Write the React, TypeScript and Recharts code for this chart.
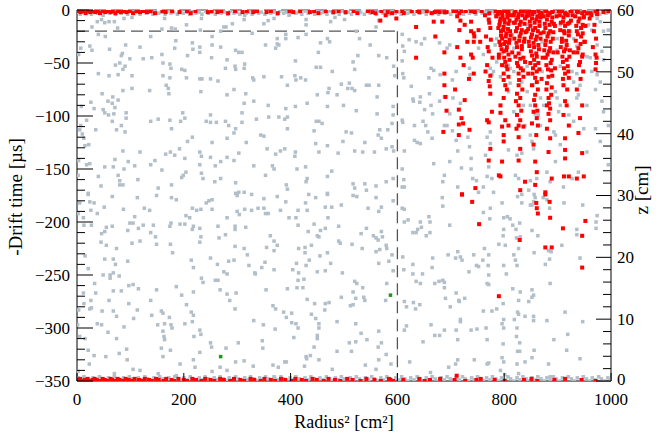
import { ScatterChart, Scatter, XAxis, YAxis, ReferenceLine } from 'recharts';

// scatter points [radius^2 (cm^2), -drift time (us)]
const grayUpperLeft: [number, number][] = [
  [28,-16],[38,-11],[46,-9],[52,-12],[60,-11],[70,-11],[88,-8],[40,-23],[53,-25],[76,-17],[103,-7],[138,-25],[159,-18],[164,-8],[177,-17],[184,-18],[205,-14],[231,-19],[233,-8],
  [7,-36],[24,-34],[28,-38],[61,-37],[91,-33],[85,-41],[83,-43],[99,-46],[118,-35],[124,-46],[140,-45],[159,-42],[161,-50],[174,-51],[176,-55],[183,-36],[185,-29],[207,-43],[217,-37],[216,-31],[230,-40],[230,-35],
  [3,-42],[72,-52],[80,-50],[90,-53],[40,-60],[60,-62],[77,-61],[86,-56],[103,-62],[136,-76],[161,-62],[174,-64],[196,-56],[202,-57],[205,-64],[230,-65],[234,-65],[167,-71],[171,-74],[172,-79],[232,-77],
  [47,-79],[67,-82],[58,-86],[77,-85],[66,-88],[86,-76],[103,-74],[26,-87],[32,-93],[49,-94],[52,-97],[71,-92],[59,-99],[69,-98],[92,-97],[92,-102],[83,-109],[74,-113],[90,-115],[66,-105],
  [8,-91],[18,-104],[7,-109],[35,-113],[138,-105],[152,-103],[174,-104],[177,-112],[198,-97],[194,-105],[202,-102],[242,-105],[216,-120],[207,-124],[5,-113],[10,-117],[13,-121],[15,-128],[22,-127],
  [86,-133],[118,-134],[166,-136],[175,-134],[192,-131],[183,-137],[202,-140],[230,-134],[233,-138],[3,-142],[18,-146],[24,-145],[71,-141],[52,-148],[68,-148],[96,-143],[108,-147],[146,-142],[138,-146],[159,-151],[230,-146],
  [2,-156],[40,-157],[77,-156],[88,-150],[80,-161],[114,-160],[80,-165],[86,-165],[45,-166],[21,-173],[152,-168],[177,-165],[196,-158],[199,-156],[204,-153],[233,-154],[236,-159],
];

const grayUpperCenter: [number, number][] = [
  [253,-25],[269,-20],[275,-16],[279,-16],[291,-13],[313,-9],[314,-5],[350,-13],[358,-10],[369,-8],[397,-5],[429,-9],[429,-14],[475,-11],[483,-7],[328,-22],[375,-27],[391,-23],[391,-27],[414,-26],[429,-23],
  [253,-33],[269,-35],[297,-38],[303,-40],[309,-40],[353,-33],[372,-36],[375,-32],[378,-33],[452,-40],[456,-31],[469,-27],[473,-30],[252,-45],[281,-47],[296,-53],[297,-56],[314,-51],[313,-55],[278,-55],[409,-48],[448,-54],[456,-54],[478,-58],
  [250,-65],[264,-67],[329,-64],[331,-66],[350,-63],[383,-63],[394,-71],[408,-62],[410,-66],[419,-64],[428,-66],[450,-80],[472,-74],[470,-78],[487,-80],[495,-70],[281,-80],[294,-75],[316,-79],[331,-86],[313,-88],[358,-90],[391,-93],[409,-91],[431,-88],[469,-91],
  [309,-97],[359,-101],[378,-101],[389,-103],[394,-101],[250,-99],[250,-106],[261,-106],[278,-105],[284,-109],[297,-112],[309,-106],[336,-103],[394,-112],[448,-105],[453,-105],[459,-107],[444,-114],
  [253,-125],[281,-121],[294,-116],[317,-125],[344,-118],[350,-119],[356,-131],[372,-136],[381,-133],[389,-131],[409,-134],[408,-138],[447,-126],[453,-134],[469,-128],[489,-135],[498,-124],
  [250,-139],[259,-147],[269,-143],[281,-139],[294,-142],[303,-135],[331,-147],[366,-147],[369,-150],[412,-150],[428,-148],[353,-156],[431,-159],[429,-162],[469,-157],[477,-152],[258,-162],[269,-159],[297,-163],[297,-173],[303,-172],[313,-172],[392,-165],[394,-169],[469,-173],
];

const grayUpperRight: [number, number][] = [
  [501,-9],[523,-20],[529,-27],[560,-16],[565,-10],[549,-33],[526,-43],[565,-43],[580,-45],[517,-49],[520,-56],[510,-69],[515,-74],[507,-74],[520,-76],[542,-71],[547,-71],[565,-71],[562,-82],[593,-53],[595,-62],
  [609,-23],[610,-34],[613,-39],[609,-48],[610,-60],[612,-64],[626,-72],[622,-28],[635,-30],[645,-32],[651,-27],[679,-31],[698,-33],[693,-36],[663,-55],[668,-57],[659,-64],[660,-79],[680,-61],[703,-66],[710,-58],[735,-55],[736,-61],
  [629,-84],[630,-86],[642,-87],[643,-82],[651,-94],[663,-90],[666,-98],[679,-86],[688,-82],[698,-98],[704,-83],[718,-88],[499,-90],[523,-95],[562,-98],[592,-91],[592,-99],[590,-107],[582,-113],[567,-113],[564,-118],[570,-121],
  [504,-115],[514,-116],[539,-125],[520,-133],[535,-134],[557,-134],[579,-131],[590,-129],[593,-133],[609,-104],[610,-106],[632,-109],[648,-105],[653,-109],[657,-115],[665,-121],[632,-123],[637,-125],[643,-126],[613,-133],
  [688,-109],[693,-109],[703,-114],[710,-123],[713,-133],[732,-120],[735,-129],[738,-140],[698,-143],[720,-149],[738,-150],[668,-145],[609,-150],[612,-160],[609,-167],[613,-167],[592,-159],[579,-162],[560,-166],[539,-164],[542,-170],[517,-164],[520,-168],[688,-156],[685,-162],[713,-167],[741,-159],[748,-161],
  [752,-36],[761,-42],[774,-55],[780,-58],[777,-61],[774,-115],[768,-120],[774,-126],[765,-137],[771,-148],[768,-157],[777,-159],[761,-167],[808,-52],[811,-55],[818,-58],[808,-77],[818,-96],[808,-132],[824,-137],[833,-135],[821,-156],[827,-159],
  [836,-90],[839,-109],[849,-118],[852,-124],[855,-131],[864,-99],[868,-83],[871,-58],[855,-71],[843,-77],[849,-90],[858,-98],[874,-90],[868,-109],[899,-83],[905,-90],[896,-77],[902,-96],[893,-115],[896,-118],[905,-127],[921,-99],[930,-105],
  [939,-80],[936,-83],[942,-71],[955,-90],[949,-112],[955,-44],[961,-45],[964,-58],[974,-61],[980,-68],[971,-75],[983,-86],[986,-96],[974,-8],[980,-11],[986,-20],[995,-19],[958,-14],[964,-19],[974,-33],[983,-39],[986,-47],
  [880,-153],[861,-159],[849,-161],[886,-162],[911,-167],[927,-159],[939,-153],[896,-143],[955,-134],[980,-124],[971,-112],[995,-109],[995,-146],[752,-172],[780,-172],[846,-170],[796,-41],[786,-49],[793,-63],[811,-69],[833,-68],
  [843,-53],[905,-53],[927,-58],[930,-68],[936,-60],[899,-38],[905,-14],[924,-20],[930,-27],[936,-34],[899,-27],[871,-30],[843,-14],[815,-23],[818,-36],[786,-27],[783,-33],
];

const grayLowerLeft: [number, number][] = [
  [21,-174],[5,-182],[24,-181],[32,-182],[66,-176],[113,-177],[149,-175],[177,-177],[186,-179],[2,-192],[12,-196],[26,-189],[38,-192],[51,-186],[87,-188],[108,-195],[126,-187],[136,-189],[216,-187],[224,-189],[232,-188],[242,-182],[204,-194],[211,-196],[247,-180],
  [13,-203],[27,-203],[46,-211],[52,-209],[55,-205],[66,-204],[95,-208],[99,-201],[105,-201],[115,-206],[124,-203],[143,-203],[138,-210],[147,-214],[174,-204],[176,-201],[193,-202],[202,-202],[218,-204],[216,-207],[230,-206],[232,-214],[230,-219],
  [45,-219],[55,-222],[74,-225],[103,-220],[118,-218],[149,-221],[175,-221],[179,-229],[15,-232],[21,-244],[52,-235],[68,-235],[72,-240],[95,-237],[214,-236],[218,-243],[233,-253],[236,-257],[49,-250],[62,-250],[68,-248],[62,-253],[79,-251],
  [33,-258],[35,-267],[12,-267],[68,-265],[83,-265],[97,-260],[105,-259],[115,-263],[149,-264],[186,-261],[196,-269],[218,-266],[26,-274],[24,-282],[13,-277],[27,-281],[60,-274],[97,-277],[138,-274],[3,-283],[1,-297],[38,-296],[46,-297],[47,-284],[68,-284],[74,-289],
  [88,-299],[106,-291],[113,-283],[140,-288],[151,-297],[158,-284],[161,-286],[164,-296],[173,-290],[176,-297],[178,-300],[205,-278],[214,-285],[218,-288],[202,-296],[216,-294],[161,-303],[163,-308],[164,-311],[58,-304],[74,-310],[5,-308],[15,-310],
  [21,-321],[32,-326],[54,-327],[79,-324],[93,-320],[94,-330],[158,-319],[161,-327],[175,-321],[230,-302],[232,-306],[219,-308],[230,-323],[218,-330],[193,-334],[221,-337],[2,-341],[23,-334],[70,-343],[105,-339],[118,-340],[152,-343],[186,-345],
];

const grayLowerCenter: [number, number][] = [
  [253,-179],[300,-175],[327,-174],[350,-178],[375,-176],[391,-181],[434,-174],[447,-177],[469,-174],[253,-188],[281,-196],[300,-190],[304,-193],[314,-188],[327,-189],[339,-187],[350,-187],[353,-192],[358,-192],[381,-189],[397,-196],[410,-196],[414,-189],[431,-189],[428,-182],[465,-186],[477,-186],[495,-184],[470,-196],
  [264,-204],[296,-204],[296,-207],[316,-205],[414,-203],[444,-202],[465,-206],[490,-204],[433,-209],[450,-213],[456,-208],[266,-215],[278,-212],[362,-213],[369,-218],[375,-222],[369,-227],[355,-224],[296,-223],[313,-225],[415,-225],[427,-224],[427,-229],[439,-222],[453,-214],[490,-218],[493,-220],
  [250,-234],[263,-240],[284,-237],[294,-236],[319,-231],[322,-241],[333,-248],[334,-249],[346,-243],[352,-238],[369,-245],[404,-245],[411,-239],[415,-248],[429,-241],[435,-236],[455,-232],[469,-229],[475,-239],[450,-247],[465,-246],[497,-248],[275,-247],[281,-249],
  [259,-255],[264,-255],[414,-255],[425,-254],[412,-262],[423,-262],[394,-263],[354,-264],[268,-264],[281,-268],[298,-267],[286,-274],[296,-282],[431,-273],[445,-277],[465,-277],[472,-276],[464,-283],[495,-271],[367,-279],[372,-282],[387,-285],[402,-286],[392,-290],[402,-295],[410,-296],[414,-300],
  [439,-287],[447,-291],[453,-296],[453,-300],[487,-294],[331,-293],[349,-297],[371,-301],[406,-309],[450,-307],[450,-310],[444,-318],[487,-322],[250,-314],[252,-318],[279,-319],[302,-314],[347,-312],[348,-319],[437,-326],[429,-327],[430,-329],[453,-330],
  [297,-332],[313,-331],[330,-336],[367,-335],[377,-337],[389,-332],[392,-332],[426,-336],[478,-339],[253,-341],[268,-337],[281,-340],[369,-346],[409,-346],
];

const grayLowerRight: [number, number][] = [
  [517,-175],[524,-176],[545,-187],[560,-177],[565,-190],[570,-186],[592,-180],[609,-187],[613,-188],[620,-198],[613,-200],[629,-210],[635,-210],[638,-207],[645,-205],[643,-200],[659,-195],[661,-200],[654,-213],[661,-210],[685,-185],[684,-177],[698,-203],
  [532,-211],[542,-206],[555,-213],[560,-215],[564,-217],[570,-209],[572,-214],[579,-222],[580,-225],[567,-226],[560,-228],[515,-221],[534,-225],[590,-231],[610,-233],[612,-245],[629,-240],[647,-249],[629,-249],[635,-256],[643,-258],[670,-258],[678,-256],[685,-255],[688,-257],[688,-262],
  [665,-243],[666,-234],[695,-231],[713,-228],[718,-233],[709,-234],[721,-236],[734,-247],[743,-231],[748,-241],[565,-239],[584,-237],[592,-246],[580,-258],[520,-256],[524,-258],[535,-262],[517,-266],[522,-272],[512,-279],[517,-278],[537,-271],[539,-274],[578,-274],
  [613,-275],[617,-280],[630,-276],[634,-282],[642,-278],[690,-272],[699,-280],[710,-267],[715,-274],[716,-275],[726,-272],[617,-298],[613,-302],[663,-297],[679,-307],[688,-302],[710,-302],[713,-311],[718,-292],[718,-294],[738,-302],[749,-301],[522,-296],[532,-305],[565,-303],
  [510,-314],[522,-313],[543,-311],[570,-314],[564,-318],[579,-325],[565,-330],[514,-322],[540,-335],[560,-339],[588,-334],[623,-332],[648,-313],[670,-307],[696,-337],[713,-330],[709,-334],[744,-330],[662,-342],
  [833,-174],[825,-176],[856,-174],[858,-177],[855,-181],[852,-184],[833,-182],[849,-184],[796,-182],[774,-187],[761,-191],[773,-197],[799,-196],[806,-195],[811,-197],[816,-203],[829,-201],[822,-207],[799,-207],[798,-213],[790,-221],[802,-222],[823,-215],[830,-214],[827,-225],
  [852,-208],[863,-213],[883,-227],[888,-228],[885,-235],[877,-240],[856,-229],[818,-231],[821,-236],[824,-241],[799,-241],[804,-249],[771,-231],[770,-241],[760,-236],[763,-225],[752,-242],[771,-250],[768,-258],[771,-259],[816,-263],[830,-266],[852,-264],[855,-269],[852,-271],[846,-275],[827,-274],
  [798,-277],[777,-284],[761,-284],[786,-282],[825,-285],[827,-287],[839,-289],[855,-289],[855,-293],[819,-292],[799,-292],[796,-296],[799,-300],[824,-300],[823,-308],[829,-314],[825,-322],[829,-322],[798,-315],[768,-311],[766,-300],[771,-333],[768,-334],[796,-328],[799,-332],[824,-334],[839,-332],
  [852,-328],[856,-321],[880,-293],[893,-311],[917,-321],[919,-306],[914,-285],[947,-294],[942,-329],[883,-334],[886,-346],[827,-343],[793,-340],[886,-258],[936,-207],[936,-212],[946,-213],[972,-206],[972,-200],[974,-194],[947,-184],[912,-182],[908,-222],[942,-234],[880,-179],[885,-187],[873,-177],
];

const grayTopBand: [number, number][] = [
  [1,-2],[6,-4],[12,-1],[17,-3],[23,-2],[27,-4],[34,-1],[39,-3],[45,-2],[49,-5],[56,-1],[61,-3],[66,-2],[72,-4],[78,-1],[83,-3],[89,-2],[95,-4],[101,-1],[106,-3],[113,-2],[118,-4],[124,-1],[130,-3],[135,-2],[142,-4],[147,-1],[153,-3],[158,-2],[165,-4],
  [170,-1],[176,-3],[181,-2],[188,-4],[194,-1],[199,-3],[206,-2],[211,-4],[217,-1],[223,-3],[229,-2],[234,-4],[241,-1],[246,-3],[252,-2],[259,-4],[264,-1],[270,-3],[276,-2],[282,-4],[287,-1],[294,-3],[299,-2],[305,-4],[311,-1],[317,-3],[322,-2],[328,-4],[334,-1],[340,-3],
  [345,-2],[352,-4],[357,-1],[363,-3],[369,-2],[375,-4],[380,-1],[387,-3],[392,-2],[398,-4],[404,-1],[410,-3],[415,-2],[421,-4],[427,-1],[433,-3],[438,-2],[445,-4],[450,-1],[456,-3],[462,-2],[468,-4],[473,-1],[480,-3],[485,-2],[491,-4],[497,-1],[503,-3],[508,-2],[514,-4],
  [520,-1],[526,-3],[531,-2],[538,-4],[543,-1],[549,-3],[555,-2],[561,-4],[566,-1],[573,-3],[578,-2],[584,-4],[590,-1],[596,-3],[601,-2],[607,-4],[613,-1],[619,-3],[624,-2],[631,-4],[636,-1],[642,-3],[648,-2],[654,-4],[659,-1],[666,-3],[671,-2],[677,-4],[683,-1],[689,-3],
  [694,-2],[700,-4],[706,-1],[712,-3],[717,-2],[724,-4],[729,-1],[735,-3],[741,-2],[747,-4],[752,-1],[759,-3],[764,-2],[770,-4],[776,-1],[782,-3],[787,-2],[793,-4],[799,-1],[805,-3],[810,-2],[817,-4],[822,-1],[828,-3],[834,-2],[840,-4],[845,-1],[852,-3],[857,-2],[863,-4],
  [869,-1],[875,-3],[880,-2],[886,-4],[892,-1],[898,-3],[903,-2],[910,-4],[915,-1],[921,-3],[927,-2],[933,-4],[938,-1],[945,-3],[950,-2],[956,-4],[962,-1],[968,-3],[973,-2],[979,-4],[985,-1],[991,-3],[996,-2],
];

const grayBottomBand: [number, number][] = [
  [2,-347],[8,-349],[13,-346],[19,-348],[25,-350],[30,-347],[36,-349],[42,-346],[47,-348],[53,-350],[59,-347],[64,-349],[70,-346],[76,-348],[81,-350],[87,-347],[93,-349],[98,-346],[104,-348],[110,-350],[115,-347],[121,-349],[127,-346],[132,-348],[138,-350],[144,-347],
  [149,-349],[155,-346],[161,-348],[166,-350],[172,-347],[178,-349],[183,-346],[189,-348],[195,-350],[200,-347],[206,-349],[212,-346],[217,-348],[223,-350],[229,-347],[234,-349],[240,-346],[246,-348],[251,-350],[257,-347],[263,-349],[268,-346],[274,-348],[280,-350],
  [285,-347],[291,-349],[297,-346],[302,-348],[308,-350],[314,-347],[319,-349],[325,-346],[331,-348],[336,-350],[342,-347],[348,-349],[353,-346],[359,-348],[365,-350],[370,-347],[376,-349],[382,-346],[387,-348],[393,-350],[399,-347],[404,-349],[410,-346],[416,-348],
  [421,-350],[427,-347],[433,-349],[438,-346],[444,-348],[450,-350],[455,-347],[461,-349],[467,-346],[472,-348],[478,-350],[484,-347],[489,-349],[495,-346],[501,-348],[506,-350],[512,-347],[518,-349],[523,-346],[529,-348],[535,-350],[540,-347],[546,-349],[552,-346],
  [557,-348],[563,-350],[569,-347],[574,-349],[580,-346],[586,-348],[591,-350],[597,-347],[603,-349],[608,-346],[614,-348],[620,-350],[625,-347],[631,-349],[637,-346],[642,-348],[648,-350],[654,-347],[659,-349],[665,-346],[671,-348],[676,-350],[682,-347],[688,-349],
  [693,-346],[699,-348],[705,-350],[710,-347],[716,-349],[722,-346],[727,-348],[733,-350],[739,-347],[744,-349],[750,-346],[756,-348],[761,-350],[767,-347],[773,-349],[778,-346],[784,-348],[790,-350],[795,-347],[801,-349],[801,-344],[807,-346],[812,-348],[818,-350],
  [824,-347],[829,-349],[835,-346],[841,-348],[846,-350],[852,-347],[858,-349],[863,-346],[869,-348],[875,-350],[880,-347],[886,-349],[892,-346],[897,-348],[903,-350],[909,-347],[914,-349],[920,-346],[926,-348],[931,-350],[937,-347],[943,-349],[948,-346],[954,-348],
  [960,-350],[965,-347],[971,-349],[977,-346],[982,-348],[988,-350],[994,-347],[998,-349],
];

const redTopBand: [number, number][] = [
  [2,-1],[7,-2],[11,-1],[16,-3],[20,-1],[25,-2],[29,-1],[34,-2],[39,-1],[43,-3],[48,-1],[53,-2],[58,-1],[63,-2],[67,-1],[72,-3],[77,-1],[82,-2],[88,-1],[93,-2],[99,-1],[105,-3],[112,-1],[118,-2],[124,-1],[131,-2],[138,-1],[146,-3],
  [160,-1],[166,-2],[178,-1],[192,-2],[206,-1],[213,-3],[222,-1],[245,-2],[252,-1],[263,-2],[270,-1],[283,-3],[296,-1],[310,-2],[318,-1],[330,-2],[337,-1],[355,-2],[363,-1],[376,-3],[398,-1],[405,-2],[418,-1],[436,-2],[444,-1],[452,-3],
  [466,-1],[480,-2],[490,-1],[503,-2],[518,-1],[525,-3],[545,-1],[553,-2],[570,-1],[582,-2],[598,-1],[612,-3],[627,-1],[641,-2],[655,-1],[664,-3],[676,-1],[692,-2],[705,-1],[716,-3],[728,-1],[745,-2],[758,-1],[772,-3],[784,-1],
  [796,-2],[807,-1],[819,-3],[831,-1],[843,-2],[855,-1],[867,-3],[879,-1],[890,-2],[902,-1],[914,-3],[926,-1],[938,-2],[950,-1],[962,-3],[974,-1],[986,-2],[995,-1],
];

const redBottomBand: [number, number][] = [
  [2,-349],[6,-348],[11,-350],[15,-349],[20,-348],[23,-350],[29,-349],[33,-348],[37,-349],[42,-350],[48,-348],[52,-349],[56,-350],[63,-348],[66,-349],[72,-350],[76,-348],[80,-349],[87,-350],[91,-348],[97,-349],[104,-350],[108,-348],[116,-349],[121,-350],[127,-348],
  [135,-349],[140,-350],[148,-348],[153,-349],[162,-350],[167,-348],[177,-349],[182,-350],[190,-348],[200,-349],[206,-350],[216,-348],[223,-349],[233,-350],[240,-348],[250,-349],[257,-350],[268,-348],[275,-349],[287,-350],[294,-348],[306,-349],[313,-350],
  [325,-348],[332,-349],[344,-350],[351,-348],[363,-349],[371,-350],[382,-348],[390,-349],[402,-350],[409,-348],[421,-349],[429,-350],[441,-348],[449,-349],[462,-350],[471,-348],[483,-349],[493,-350],[506,-348],[516,-349],[531,-350],[542,-348],[557,-349],
  [569,-350],[584,-348],[587,-349],[592,-350],[611,-349],[641,-348],[651,-350],[661,-349],[680,-348],[707,-349],[711,-345],[727,-350],[748,-349],[756,-348],[782,-349],[801,-350],[837,-349],[851,-348],[862,-350],[894,-349],[914,-348],[945,-349],[971,-350],
];

const redCluster: [number, number][] = [
  [559,-3],[568,-10],[578,-5],[590,-3],[598,-8],[609,-1],[638,-1],[668,-11],[670,-2],[679,-2],[684,-11],[688,-2],[710,-1],[718,-10],[720,-1],[716,-19],[738,-1],[738,-11],[635,-16],[671,-25],[688,-40],[635,-45],[718,-45],
  [738,-42],[741,-45],[743,-60],[688,-60],[688,-71],[715,-94],[720,-102],[723,-107],[715,-108],[735,-113],[715,-118],[746,-168],[721,-174],[743,-22],[738,-20],[744,-25],[743,-30],
  [752,-19],[755,-30],[771,-9],[774,-17],[771,-39],[768,-52],[771,-67],[773,-72],[774,-79],[777,-96],[768,-104],[771,-106],[774,-131],[771,-142],[793,-157],
  [790,-1],[796,-3],[802,-1],[808,-2],[793,-8],[800,-9],[806,-7],[791,-14],[799,-16],[808,-13],[794,-20],[804,-22],[811,-20],[796,-27],[802,-30],[810,-28],[793,-33],[805,-35],[799,-39],[808,-42],
  [802,-49],[804,-53],[799,-66],[802,-71],[805,-75],[799,-83],[793,-90],[793,-97],[802,-104],[808,-109],[796,-110],[799,-118],[799,-124],[796,-143],[790,-156],
  [821,-1],[827,-4],[836,-1],[823,-9],[831,-11],[839,-8],[824,-17],[833,-19],[829,-25],[838,-27],[823,-31],[833,-34],[827,-41],[836,-45],[824,-50],[831,-55],[827,-60],[836,-63],
  [827,-71],[824,-79],[830,-83],[827,-90],[824,-99],[830,-104],[827,-109],[823,-112],[836,-110],[827,-120],[830,-131],[827,-142],[839,-162],[830,-170],
  [849,-1],[856,-2],[864,-1],[852,-8],[860,-9],[868,-7],[849,-15],[858,-17],[866,-15],[852,-23],[861,-25],[855,-31],[864,-33],[850,-39],[860,-41],[856,-47],[864,-50],[854,-55],[861,-58],[858,-64],[852,-71],[863,-75],[858,-80],
  [858,-90],[855,-96],[861,-102],[852,-107],[863,-109],[860,-118],[855,-127],[858,-143],[861,-153],[858,-165],
  [877,-1],[885,-3],[891,-1],[880,-9],[889,-11],[877,-17],[886,-20],[881,-25],[891,-27],[877,-33],[886,-36],[881,-42],[889,-47],[879,-52],[888,-57],[883,-63],[880,-69],[889,-73],
  [883,-83],[880,-90],[886,-93],[883,-98],[886,-104],[880,-112],[886,-121],[883,-134],[889,-159],[877,-172],
  [908,-1],[916,-4],[924,-1],[910,-11],[919,-13],[912,-20],[921,-24],[908,-30],[917,-33],[912,-39],[922,-44],[910,-49],[919,-53],[914,-60],[921,-64],[911,-71],
  [914,-86],[917,-90],[911,-99],[921,-109],[914,-121],[914,-132],[914,-140],[921,-157],[912,-157],
  [936,-1],[946,-3],[949,-6],[939,-11],[947,-14],[936,-20],[944,-25],[950,-30],[939,-36],[947,-42],[942,-49],[936,-75],[946,-90],[942,-102],[939,-116],[946,-135],[936,-159],[949,-157],
  [971,-1],[974,-4],[969,-14],[972,-27],[971,-42],[972,-50],[971,-56],
  [812,-5],[845,-4],[870,-3],[898,-6],[928,-5],[955,-3],[785,-6],[818,-12],[842,-20],[868,-22],[895,-15],[925,-10],[960,-8],[815,-40],[846,-30],[872,-45],[900,-40],[930,-40],[790,-45],[845,-60],[895,-55],[870,-65],
  [721,-174],[740,-181],[753,-202],[829,-217],[860,-182],[861,-187],[863,-192],[877,-174],[885,-181],[886,-196],[910,-206],[877,-224],[889,-224],[946,-243],[946,-213],[952,-199],[790,-270],
];

// the solid red columns near the top right
const redDense: [number, number][] = [
  [788,-4],[797,-6],[806,-4],[792,-11],[801,-12],[810,-10],[789,-17],[798,-19],[807,-18],[794,-24],[803,-25],[812,-24],[791,-30],[800,-32],[809,-31],[795,-37],[804,-38],[790,-42],[800,-45],[810,-47],[796,-52],[806,-56],[799,-60],[808,-63],
  [818,-5],[826,-7],[834,-5],[842,-6],[820,-12],[829,-14],[838,-13],[822,-20],[831,-22],[840,-21],[819,-27],[828,-29],[837,-30],[824,-35],[833,-37],[821,-44],[830,-46],[839,-49],[826,-53],[835,-57],[828,-66],[834,-75],[822,-86],[832,-95],
  [846,-5],[853,-4],[862,-6],[870,-5],[848,-11],[857,-12],[866,-11],[845,-18],[854,-19],[863,-20],[850,-26],[859,-28],[868,-27],[847,-34],[856,-35],[865,-37],[852,-43],[861,-44],[849,-50],[858,-52],[866,-56],[853,-60],[861,-68],[856,-85],[862,-95],
  [874,-6],[882,-5],[890,-7],[876,-13],[885,-14],[893,-13],[874,-21],[883,-22],[892,-21],[878,-29],[887,-30],[875,-38],[884,-39],[892,-40],[878,-45],[887,-50],[882,-56],[890,-62],[879,-75],[888,-80],[884,-88],
  [904,-5],[911,-7],[919,-5],[906,-12],[914,-15],[922,-12],[905,-19],[913,-22],[921,-20],[908,-27],[916,-29],[906,-35],[915,-37],[923,-38],[909,-44],[917,-47],[912,-55],[920,-58],[910,-65],[918,-75],
  [933,-6],[941,-8],[949,-7],[935,-15],[944,-17],[952,-15],[938,-23],[947,-22],[934,-29],[943,-32],[951,-30],[937,-40],[946,-44],[940,-52],[948,-58],[943,-65],
  [764,-5],[772,-12],[766,-25],[775,-28],[769,-35],[778,-45],[765,-58],[774,-62],
  [712,-6],[726,-14],[731,-30],[712,-35],[724,-52],[734,-65],[708,-75],[726,-85],
  [963,-5],[968,-20],[966,-35],[973,-45],[690,-82],[692,-95],[686,-115],
];

const greenPoints: [number, number][] = [[269, -327], [587, -269]];

const leftTicks = [-350,-340,-330,-320,-310,-300,-290,-280,-270,-260,-250,-240,-230,-220,-210,-200,-190,-180,-170,-160,-150,-140,-130,-120,-110,-100,-90,-80,-70,-60,-50,-40,-30,-20,-10,0];
const zTicks = [0,2,4,6,8,10,12,14,16,18,20,22,24,26,28,30,32,34,36,38,40,42,44,46,48,50,52,54,56,58,60];
const xTicks = [0,200,400,600,800,1000];

const toPts = (arr: [number, number][]) => arr.map(([x, y]) => ({ x, y }));

const grayData = toPts([
  ...grayTopBand, ...grayBottomBand,
  ...grayUpperLeft, ...grayUpperCenter, ...grayUpperRight,
  ...grayLowerLeft, ...grayLowerCenter, ...grayLowerRight,
]);
const redData = toPts([...redTopBand, ...redBottomBand, ...redCluster, ...redDense]);
const greenData = toPts(greenPoints);

const FONT = '"Liberation Serif", "Times New Roman", Tinos, "Noto Serif", "DejaVu Serif", serif';
const txt = { fontFamily: FONT, fill: '#000' };
const fmt = (v: number) => (v < 0 ? '\u2212' + Math.abs(v) : String(v));

function square(size: number, fill: string) {
  return (props: any) => (
    <rect x={props.cx - size / 2} y={props.cy - size / 2} width={size} height={size} fill={fill} />
  );
}

function LeftTick(props: any) {
  const { x, y, payload } = props;
  const v = payload.value;
  const major = v % 50 === 0;
  const ax = x + 7;
  return (
    <g>
      <line x1={ax} x2={ax + (major ? 16 : 8)} y1={y} y2={y} stroke="#000" strokeWidth={1} />
      {major && (
        <text x={x} y={y} dy="0.35em" textAnchor="end" style={{ ...txt, fontSize: 17 }}>
          {fmt(v)}
        </text>
      )}
    </g>
  );
}

function RightTick(props: any) {
  const { x, y, payload } = props;
  const v = payload.value;
  const major = v % 10 === 0;
  const ax = x - 6;
  return (
    <g>
      <line x1={ax} x2={ax - (major ? 15 : 8)} y1={y} y2={y} stroke="#000" strokeWidth={1} />
      {major && (
        <text x={x} y={v === 0 ? y - 2 : y} dy="0.35em" textAnchor="start" style={{ ...txt, fontSize: 17 }}>
          {v}
        </text>
      )}
    </g>
  );
}

function BottomTick(props: any) {
  const { x, y, payload } = props;
  const ay = y - 8;
  return (
    <g>
      <line x1={x} x2={x} y1={ay} y2={ay - 8} stroke="#000" strokeWidth={1} />
      <text x={x} y={ay + 24} textAnchor="middle" style={{ ...txt, fontSize: 17 }}>
        {payload.value}
      </text>
    </g>
  );
}

export default function App() {
  return (
    <div style={{ position: 'absolute', left: 0, top: 0, width: 659, height: 437, background: '#fff' }}>
      <ScatterChart width={659} height={437} margin={{ top: 10, right: 0, bottom: 0, left: 0 }}>
        <XAxis
          type="number"
          dataKey="x"
          domain={[0, 1000]}
          ticks={xTicks}
          interval={0}
          height={56}
          tickSize={0}
          tickMargin={8}
          tick={<BottomTick />}
          axisLine={{ stroke: '#000', strokeWidth: 1 }}
          allowDataOverflow
        />
        <YAxis
          type="number"
          dataKey="y"
          domain={[-350, 0]}
          ticks={leftTicks}
          interval={0}
          width={77}
          tickSize={0}
          tickMargin={7}
          tick={<LeftTick />}
          axisLine={{ stroke: '#000', strokeWidth: 1 }}
          allowDataOverflow
        />
        <YAxis
          yAxisId="z"
          orientation="right"
          type="number"
          domain={[0, 60]}
          ticks={zTicks}
          interval={0}
          width={48}
          tickSize={0}
          tickMargin={6}
          tick={<RightTick />}
          axisLine={{ stroke: '#000', strokeWidth: 1 }}
          allowDataOverflow
        />
        <ReferenceLine y={0} stroke="#444" strokeDasharray="12 5" />
        <ReferenceLine segment={[{ x: 0, y: -20 }, { x: 600, y: -20 }]} stroke="#555" strokeWidth={1.3} strokeDasharray="12 6" />
        <ReferenceLine segment={[{ x: 600, y: -20 }, { x: 600, y: -350 }]} stroke="#555" strokeWidth={1.3} strokeDasharray="12 6" />
        <Scatter data={grayData} fill="#b2bec8" shape={square(3.5, '#b2bec8')} isAnimationActive={false} />
        <Scatter data={redData} fill="#ff0000" shape={square(4, '#ff0000')} isAnimationActive={false} />
        <Scatter data={greenData} fill="#1a9a1a" shape={square(3.5, '#1a9a1a')} isAnimationActive={false} />
      </ScatterChart>
      <svg width={659} height={437} style={{ position: 'absolute', left: 0, top: 0, pointerEvents: 'none' }}>
        <text x={22} y={197} transform="rotate(-90 22 197)" textAnchor="middle" style={{ ...txt, fontSize: 19 }}>
          -Drift time [µs]
        </text>
        <text x={344} y={428} textAnchor="middle" style={{ ...txt, fontSize: 18 }}>
          Radius² [cm²]
        </text>
        <text x={648} y={190} transform="rotate(-90 648 190)" textAnchor="middle" style={{ ...txt, fontSize: 19 }}>
          z [cm]
        </text>
      </svg>
    </div>
  );
}
